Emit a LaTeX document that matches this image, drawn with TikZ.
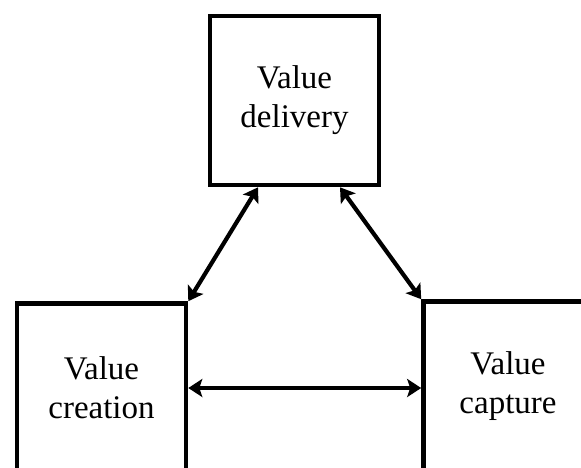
\documentclass[tikz,border=0pt]{standalone}
\usepackage{fontspec}
\setmainfont{Liberation Serif}
\usetikzlibrary{arrows.meta}
\tikzset{
  valuebox/.style={draw, line width=4.6pt, minimum width=169pt, minimum height=169pt,
    inner sep=0pt, align=center, font=\fontsize{33}{39}\selectfont},
  link/.style={<->, line width=4.2pt, >={Stealth[length=14pt,width=18pt,inset=3pt]}}
}
\begin{document}
\begin{tikzpicture}[x=1pt,y=1pt]
      \useasboundingbox (0,0) rectangle (581,-467);
      \clip (0,0) rectangle (581,-467);
      \draw
        (294.5,-100.5) node[valuebox] (dlv){Value\\delivery}
        (101.5,-388) node[valuebox] (crt){Value\\creation}
        (508,-386) node[valuebox] (cpt){Value\\capture};
      \begin{scope}[link]
        \draw ([xshift=-36.5pt]dlv.south) to (crt.north east);
        \draw ([xshift=45.5pt]dlv.south) to (cpt.north west);
        \draw (crt.east) to (cpt.west |- crt.east);
      \end{scope}
    \end{tikzpicture}
\end{document}
